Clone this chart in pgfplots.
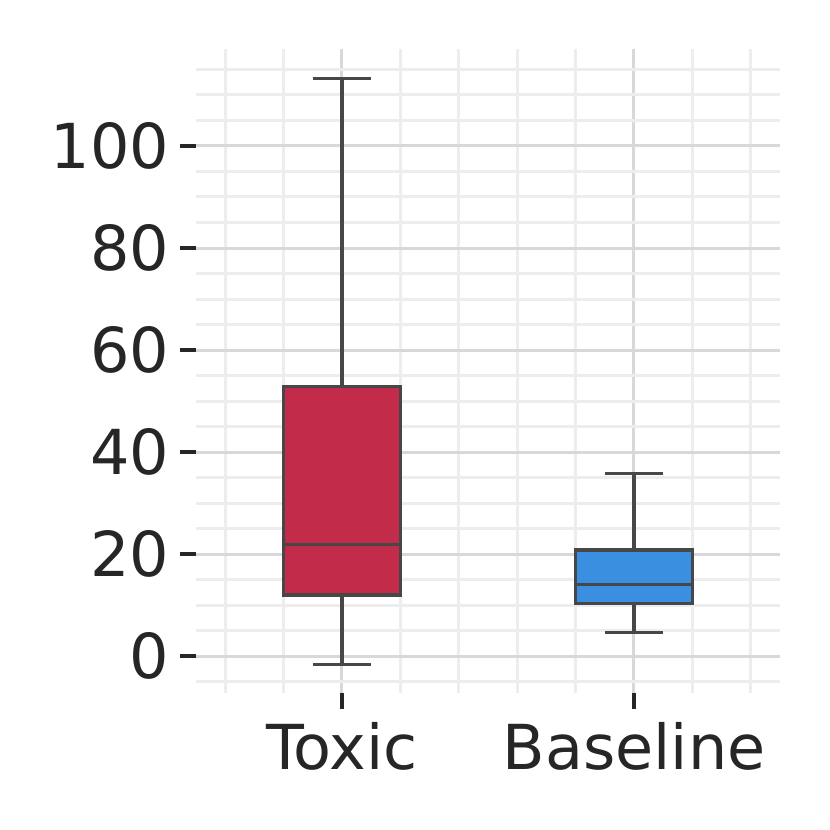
\documentclass[border=0pt]{standalone}
\usepackage{fontspec}
\setmainfont{DejaVu Sans}
\usepackage{pgfplots}
\pgfplotsset{compat=1.18}
\usepgfplotslibrary{statistics}
\usetikzlibrary{calc}

\definecolor{txt}{HTML}{262626}
\definecolor{edge}{HTML}{474747}
\definecolor{gmajor}{HTML}{D8D8D8}
\definecolor{gminor}{HTML}{EDEDED}
\definecolor{toxic}{HTML}{C32B4A}
\definecolor{base}{HTML}{3A8FE0}

\begin{document}
\fontsize{18.6bp}{22bp}\selectfont
\begin{tikzpicture}
\begin{axis}[
    scale only axis,
    width=175.2bp,
    height=193.2bp,
    xmin=-0.5, xmax=1.5,
    ymin=-7.2, ymax=119,
    xtick={0,1},
    xticklabels={Toxic,Baseline},
    minor xtick={-0.4,-0.2,0.2,0.4,0.6,0.8,1.2,1.4},
    ytick={0,20,...,100},
    minor ytick={-5,0,...,115},
    grid=both,
    major grid style={gmajor, line width=0.9bp},
    minor grid style={gminor, line width=0.9bp},
    axis line style={draw=none},
    tick align=outside,
    xtick pos=bottom,
    ytick pos=left,
    major tick length=4.7bp,
    minor tick length=0pt,
    tick style={txt, line width=1.2bp},
    ticklabel style={font=\fontsize{18.6bp}{22bp}\selectfont, text=txt},
    yticklabel style={xshift=3bp},
    xticklabel style={yshift=2.4bp},
    /pgf/number format/assume math mode=true,
    boxplot/draw direction=y,
]
\addplot[boxplot prepared={lower whisker=-1.6, lower quartile=12.0, median=21.9,
    upper quartile=52.8, upper whisker=113.2, draw position=0,
    box extend=0.4, whisker extend=0.2},
    draw=edge, fill=toxic, line width=1bp, solid]
    coordinates {};
\addplot[boxplot prepared={lower whisker=4.6, lower quartile=10.3, median=14.0,
    upper quartile=20.8, upper whisker=35.8, draw position=1,
    box extend=0.4, whisker extend=0.2},
    draw=edge, fill=base, line width=1bp, solid]
    coordinates {};
\end{axis}
\pgfresetboundingbox
\path ($(current axis.south west)+(-58.8bp,-41.1bp)$) rectangle ($(current axis.north east)+(15bp,14.7bp)$);
\end{tikzpicture}
\end{document}
